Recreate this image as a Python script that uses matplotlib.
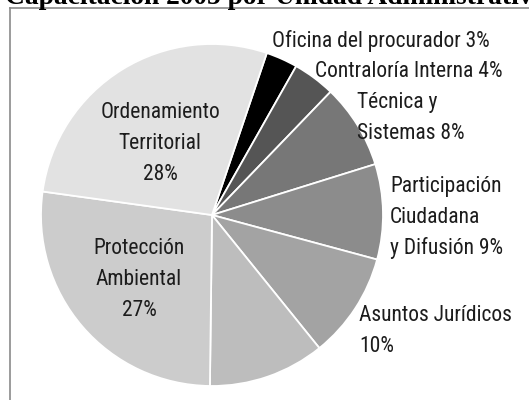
import matplotlib
matplotlib.use("Agg")
import matplotlib.pyplot as plt
from matplotlib.lines import Line2D

# Data, clockwise from the black slice
units = ["Oficina del procurador", "Contraloría Interna", "Técnica y Sistemas",
         "Participación Ciudadana y Difusión", "Asuntos Jurídicos", "Otras",
         "Protección Ambiental", "Ordenamiento Territorial"]
shares = [3, 4, 8, 9, 10, 11, 27, 28]
grays = ["#000000", "#555555", "#777777", "#8c8c8c",
         "#a3a3a3", "#bdbdbd", "#cccccc", "#e2e2e2"]

label_texts = ["Oficina del procurador 3%", "Contraloría Interna 4%",
               "Técnica y\nSistemas 8%", "Participación\nCiudadana\ny Difusión 9%",
               "Asuntos Jurídicos\n10%", "",
               "Protección\nAmbiental\n27%", "Ordenamiento\nTerritorial\n28%"]

title = "Capacitación 2005 por Unidad Administrativa"

W, H = 529, 400
fig = plt.figure(figsize=(W / 100, H / 100), dpi=100)

# pie: centre (212, 215) px, radius 171 px
cx, cy, r = 212, 215, 171
ax = fig.add_axes([(cx - r) / W, (H - cy - r) / H, 2 * r / W, 2 * r / H])
ax.pie(shares, colors=grays, startangle=71.3, counterclock=False,
       wedgeprops=dict(edgecolor="white", linewidth=1.3))
ax.set_xlim(-1, 1)
ax.set_ylim(-1, 1)
ax.axis("off")

# frame (only left and top edges visible)
fig.add_artist(Line2D([9.5 / W, 9.5 / W], [0, 1 - 8 / H], transform=fig.transFigure,
                      color="#8a8a8a", lw=1.2))
fig.add_artist(Line2D([9.5 / W, 1], [1 - 8 / H, 1 - 8 / H], transform=fig.transFigure,
                      color="#8a8a8a", lw=1.2))

# cut-off title
fig.text(5 / W, 1 - 4 / H, title, family=["Liberation Serif", "DejaVu Serif"],
         weight="bold", fontsize=19.8, ha="left", va="baseline", color="black")

# label placement: (x px, first baseline px, alignment)
label_pos = [(272, 47, "left"), (315, 77, "left"), (357, 108, "left"),
             (390, 192, "left"), (359, 321, "left"), (0, 0, "left"),
             (139, 254, "center"), (160, 118, "center")]
font = ["Roboto Condensed", "Archivo Narrow", "DejaVu Sans"]
for txt, (x, y, ha) in zip(label_texts, label_pos):
    if not txt:
        continue
    for i, line in enumerate(txt.split("\n")):
        fig.text(x / W, 1 - (y + 31 * i) / H, line, family=font, fontsize=15.5,
                 ha=ha, va="baseline", color="#1c1c1c")

fig.savefig("out.png", dpi=100)
